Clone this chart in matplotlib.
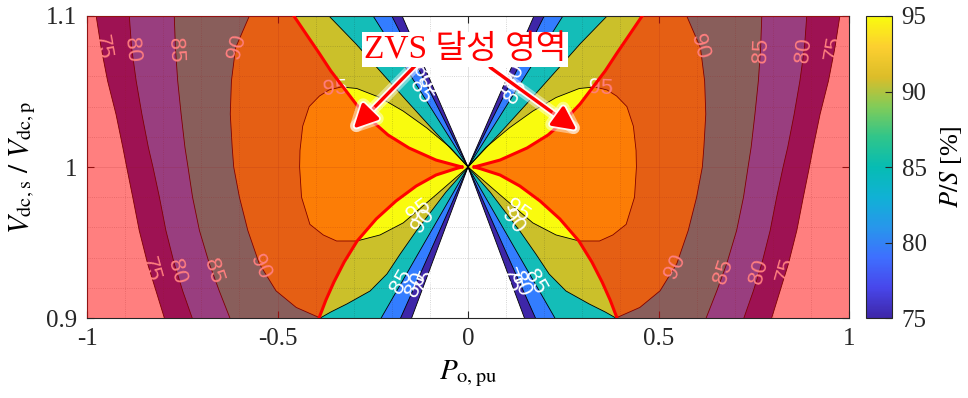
import matplotlib
import matplotlib.pyplot as plt
import matplotlib.patheffects as pe
import numpy as np
from matplotlib.colors import LinearSegmentedColormap, Normalize
from matplotlib.colorbar import ColorbarBase

plt.rcParams['font.family'] = ['Liberation Serif', 'Noto Sans CJK KR', 'DejaVu Sans']
plt.rcParams['mathtext.fontset'] = 'stix'
plt.rcParams['axes.unicode_minus'] = False

# P/S [%] contour levels and the colour of the band above each level
levels = [75, 80, 85, 90, 95]
band_colors = ['#3E26A8', '#337DFF', '#14BDB8', '#CBC02A', '#F9FB0E']

# ---- contour branches for P_o,pu >= 0 (map is mirror symmetric in P_o,pu)
# 75/80/85 branches leaving (0, 1): end points on the top / bottom edge
ray_levels = [75, 80, 85]
ray_top_x = [0.173, 0.200, 0.249]
ray_bot_x = [0.148, 0.177, 0.228]

# inner 90 % branches
c90_up_x = [0.0, 0.084, 0.163, 0.231, 0.294, 0.365]
c90_up_y = [1.0, 1.0225, 1.0444, 1.0636, 1.0815, 1.1]
c90_lo_x = [0.0, 0.058, 0.100, 0.136, 0.178, 0.213, 0.257, 0.318, 0.360, 0.388]
c90_lo_y = [1.0, 0.9834, 0.9695, 0.9576, 0.9424, 0.9291, 0.9179, 0.9093, 0.9040, 0.9]

# outer (high power) contours
outer_y = [1.10, 1.079, 1.057, 1.035, 1.013, 1.00, 0.980, 0.958, 0.936, 0.918, 0.90]
outer75_x = [0.976, 0.963, 0.946, 0.924, 0.906, 0.896, 0.880, 0.863, 0.841, 0.819, 0.797]
outer80_x = [0.889, 0.883, 0.871, 0.856, 0.839, 0.827, 0.810, 0.793, 0.771, 0.749, 0.724]
outer85_x = [0.771, 0.768, 0.762, 0.753, 0.743, 0.735, 0.723, 0.705, 0.679, 0.653, 0.625]
outer90_y = [1.10, 1.079, 1.057, 1.035, 1.013, 1.00, 0.980, 0.958, 0.936, 0.918, 0.907, 0.90]
outer90_x = [0.574, 0.610, 0.621, 0.624, 0.619, 0.615, 0.600, 0.578, 0.548, 0.504, 0.451, 0.388]

# closed 95 % lobe
c95_x = [0.0, 0.047, 0.109, 0.170, 0.231, 0.292, 0.333, 0.365, 0.390, 0.417, 0.434,
         0.441, 0.442, 0.437, 0.415, 0.380, 0.345, 0.292, 0.231, 0.170, 0.082, 0.0]
c95_y = [1.0, 1.013, 1.026, 1.037, 1.046, 1.052, 1.053, 1.051, 1.047, 1.040, 1.027,
         1.011, 1.0, 0.980, 0.962, 0.955, 0.951, 0.951, 0.955, 0.963, 0.982, 1.0]

# ZVS boundary
zvs_up_x = [0.016, 0.031, 0.084, 0.155, 0.210, 0.252, 0.294, 0.328, 0.360, 0.391, 0.425, 0.457]
zvs_up_y = [1.0, 1.001, 1.0046, 1.0126, 1.0212, 1.0305, 1.0417, 1.0530, 1.0636, 1.0755, 1.0881, 1.1]
zvs_lo_x = [0.016, 0.031, 0.084, 0.136, 0.189, 0.241, 0.291, 0.325, 0.352, 0.373, 0.391]
zvs_lo_y = [1.0, 0.999, 0.9947, 0.9874, 0.9775, 0.9656, 0.9510, 0.9371, 0.9238, 0.9119, 0.9]

# inline contour labels (right half, mirrored to the left)
lab_lv = [75, 80, 85, 90, 95, 90, 85, 80, 75, 75, 80, 85, 95, 90, 85, 80, 75]
lab_x = [0.960, 0.882, 0.769, 0.607, 0.349, 0.545, 0.670, 0.764, 0.833,
         0.097, 0.120, 0.1245, 0.130, 0.117, 0.175, 0.137, 0.112]
lab_y = [1.079, 1.0775, 1.0775, 1.080, 1.052, 0.934, 0.931, 0.931, 0.932,
         1.056, 1.060, 1.050, 0.971, 0.964, 0.924, 0.9225, 0.9245]

parula = LinearSegmentedColormap.from_list('parula', [
    (0.00, (0.2422, 0.1504, 0.6603)), (0.10, (0.2803, 0.2782, 0.9221)),
    (0.20, (0.2440, 0.4358, 0.9988)), (0.30, (0.1540, 0.5902, 0.9218)),
    (0.40, (0.0641, 0.6947, 0.8345)), (0.50, (0.0244, 0.7383, 0.7017)),
    (0.60, (0.1873, 0.7722, 0.5410)), (0.70, (0.5044, 0.7993, 0.3480)),
    (0.80, (0.8634, 0.7406, 0.1596)), (0.90, (0.9892, 0.8136, 0.1885)),
    (1.00, (0.9763, 0.9831, 0.0538))])

# build branches and filled regions (P/S >= level) for the right half
lines = {}
regions = {}
for lv, xt, xb, xo in zip(ray_levels, ray_top_x, ray_bot_x, [outer75_x, outer80_x, outer85_x]):
    lines[lv] = [([0.0, xt], [1.0, 1.1]), ([0.0, xb], [1.0, 0.9]), (xo, outer_y)]
    regions[lv] = ([0.0, xt] + xo + [xb], [1.0, 1.1] + outer_y + [0.9])
lines[90] = [(c90_up_x, c90_up_y), (c90_lo_x, c90_lo_y), (outer90_x, outer90_y)]
regions[90] = (c90_up_x + outer90_x + c90_lo_x[::-1], c90_up_y + outer90_y + c90_lo_y[::-1])
lines[95] = [(c95_x, c95_y)]
regions[95] = (c95_x, c95_y)

fig = plt.figure(figsize=(9.68, 3.98), dpi=100)
ax = fig.add_axes([0.0899, 0.2010, 0.7872, 0.7588])
cax = fig.add_axes([0.8946, 0.2010, 0.0269, 0.7588])

ax.set_xlim(-1, 1)
ax.set_ylim(0.9, 1.1)

for lv, col in zip(levels, band_colors):
    px, py = regions[lv]
    for s in (1, -1):
        ax.fill(s * np.array(px), py, color=col, lw=0, zorder=1)
        for bx, by in lines[lv]:
            ax.plot(s * np.array(bx), by, color='k', lw=0.6, zorder=1.5)


def label_angle(xs, ys, x0, y0):
    pts = ax.transData.transform(np.column_stack([xs, ys]))
    p0 = ax.transData.transform((x0, y0))
    i = int(np.argmin(np.hypot(*(pts - p0).T)))
    a, b = max(i - 1, 0), min(i + 1, len(pts) - 1)
    dx, dy = pts[b] - pts[a]
    ang = np.degrees(np.arctan2(dy, dx))
    if ang > 90:
        ang -= 180
    elif ang <= -90:
        ang += 180
    return ang


for lv, lx, ly in zip(lab_lv, lab_x, lab_y):
    for s in (1, -1):
        # nearest branch of this level
        best = None
        for bx, by in lines[lv]:
            bx = s * np.array(bx)
            d = np.min(np.hypot(bx - s * lx, (np.array(by) - ly) * 10))
            if best is None or d < best[0]:
                best = (d, bx, by)
        rot = label_angle(best[1], best[2], s * lx, ly)
        ax.text(s * lx, ly, str(lv), color='white', fontsize=16, family='Liberation Sans',
                rotation=rot, rotation_mode='anchor', ha='center', va='center', zorder=2.6)

# ZVS region shading and boundary
for s in (1, -1):
    ox = s * np.array(zvs_up_x + [1.0, 1.0] + zvs_lo_x[::-1])
    oy = zvs_up_y + [1.1, 0.9] + zvs_lo_y[::-1]
    ax.fill(ox, oy, color='red', alpha=0.5, lw=0, zorder=3)
    ax.plot(s * np.array(zvs_up_x), zvs_up_y, color='red', lw=2.2, zorder=4)
    ax.plot(s * np.array(zvs_lo_x), zvs_lo_y, color='red', lw=2.2, zorder=4)

ax.set_axisbelow(False)
ax.set_xticks([-1, -0.5, 0, 0.5, 1])
ax.set_xticklabels(['-1', '-0.5', '0', '0.5', '1'])
ax.set_yticks([0.9, 1.0, 1.1])
ax.set_yticklabels(['0.9', '1', '1.1'])
ax.set_xticks(np.arange(-1, 1.01, 0.1), minor=True)
ax.set_yticks(np.arange(0.9, 1.101, 0.02), minor=True)
ax.grid(which='major', color='#262626', alpha=0.15, lw=0.6)
ax.grid(which='minor', color='#262626', alpha=0.25, lw=0.6, ls=':')
ax.tick_params(which='major', direction='in', length=5, width=0.8, labelsize=18,
               top=True, right=True, pad=7, colors='#262626')
ax.tick_params(which='minor', length=0)
for sp in ax.spines.values():
    sp.set_color('#262626')
    sp.set_linewidth(0.8)

ax.set_xlabel(r'$P_{\mathrm{o,pu}}$', fontsize=21, labelpad=6)
ax.set_ylabel(r'$V_{\mathrm{dc,s}}\ /\ V_{\mathrm{dc,p}}$', fontsize=21, labelpad=6)

# annotation
txt_font = ['Liberation Serif', 'Noto Sans CJK KR']
for tail, head in [((-0.139, 1.067), (-0.300, 1.0255)), ((0.058, 1.066), (0.285, 1.0245))]:
    ax.annotate('', xy=head, xytext=tail, zorder=6,
                arrowprops=dict(arrowstyle='-|>', color='red', lw=2.4, mutation_scale=36,
                                shrinkA=0, shrinkB=0,
                                path_effects=[pe.withStroke(linewidth=9, foreground='white', alpha=0.45),
                                              pe.withStroke(linewidth=5, foreground='white', alpha=0.9)]))
ax.text(-0.008, 1.078, 'ZVS 달성 영역', color='red', fontsize=24, family=txt_font,
        ha='center', va='center', zorder=7,
        bbox=dict(facecolor='white', edgecolor='none', pad=1.5))

# colorbar
cb = ColorbarBase(cax, cmap=parula, norm=Normalize(75, 95), ticks=levels)
cb.outline.set_linewidth(0.8)
cb.outline.set_edgecolor('#262626')
cax.tick_params(direction='in', length=5, width=0.8, labelsize=18, pad=7, colors='#262626')
cb.set_label(r'$P/S$ [%]', fontsize=19, labelpad=8)

fig.savefig('out.png', dpi=100)
